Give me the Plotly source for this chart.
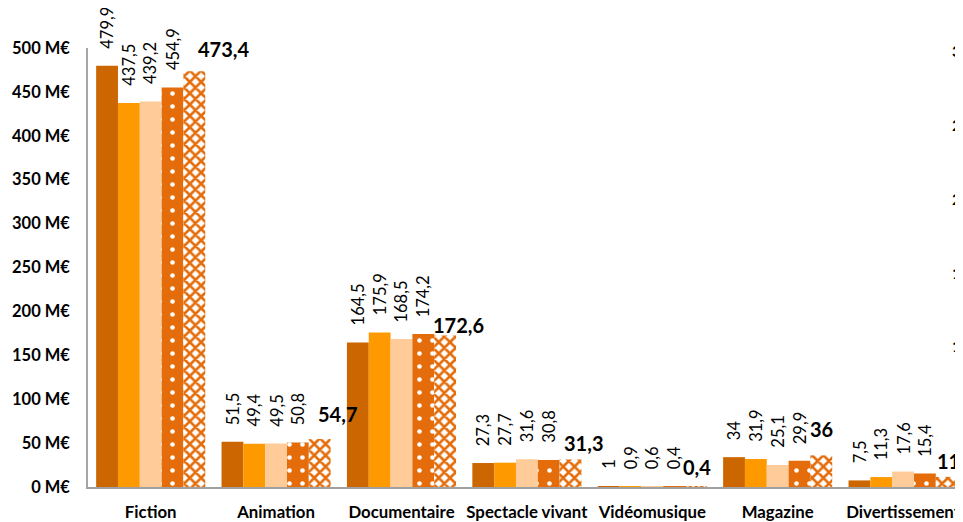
import plotly.graph_objects as go

categories = ["Fiction", "Animation", "Documentaire", "Spectacle vivant",
              "Vidéomusique", "Magazine", "Divertissement"]
series_names = ["Série 1", "Série 2", "Série 3", "Série 4", "Série 5"]
s1 = [479.9, 51.5, 164.5, 27.3, 1.0, 34.0, 7.5]
s2 = [437.5, 49.4, 175.9, 27.7, 0.9, 31.9, 11.3]
s3 = [439.2, 49.5, 168.5, 31.6, 0.6, 25.1, 17.6]
s4 = [454.9, 50.8, 174.2, 30.8, 0.4, 29.9, 15.4]
s5 = [473.4, 54.7, 172.6, 31.3, 0.4, 36.0, 11.5]
series = [s1, s2, s3, s4, s5]

y_tickvals = [0, 50, 100, 150, 200, 250, 300, 350, 400, 450, 500]
y_ticktext = [f"{v} M€" for v in y_tickvals]
y2_tickvals = [10, 15, 20, 25, 30]
y2_range = [0.44, 30.2]

# style (not data)
colors = ["#CC6600", "#FF9900", "#FFCC99", "#E46C0A", "#E46C0A"]
last_dx = [29, 18, 13, 13, 1, 0, 10]
last_dy = [8, 11, -4, 3, 6, 12, 2]

# the page body has an 8px margin: size the figure so it ends at the window edge
W, H = 955, 514
ML, MR, MT, MB = 80, 0, 40, 35
XR = [-0.5, 6.478]
BARGAP = 0.13
px_per_cat = (W - ML - MR) / (XR[1] - XR[0])
bar_px = px_per_cat * (1 - BARGAP) / len(series)


def fmt(v):
    if float(v).is_integer():
        return str(int(v))
    return f"{v:.1f}".replace(".", ",")


FONT = "Lato, 'Open Sans', sans-serif"

fig = go.Figure()
for k, vals in enumerate(series):
    marker = dict(color=colors[k], line=dict(width=0))
    if k == 3:
        marker["pattern"] = dict(shape=".", fgcolor="white", bgcolor=colors[k],
                                 size=13, solidity=0.1, fillmode="replace")
    elif k == 4:
        marker["pattern"] = dict(shape="x", fgcolor=colors[k], bgcolor="white",
                                 size=8, solidity=0.55, fillmode="replace")
    fig.add_trace(go.Bar(x=categories, y=vals, name=series_names[k],
                         marker=marker, hoverinfo="x+y"))

annotations = []
for k, vals in enumerate(series):
    for i, v in enumerate(vals):
        if k < 4:
            annotations.append(dict(
                x=categories[i], y=v, xref="x", yref="y", text=fmt(v),
                showarrow=False, textangle=-90, xanchor="center", yanchor="bottom",
                xshift=(k - 2) * bar_px, yshift=15,
                font=dict(family=FONT, size=16.5, color="black")))
        else:
            annotations.append(dict(
                x=categories[i], y=v, xref="x", yref="y", text=fmt(v),
                showarrow=False, xanchor="center", yanchor="bottom",
                xshift=(k - 2) * bar_px + last_dx[i], yshift=last_dy[i],
                font=dict(family=FONT, size=20, color="black", weight="bold")))

# secondary-axis tick labels (cut by the right edge, as in the reference)
for v in y2_tickvals:
    annotations.append(dict(
        x=(942 - ML) / (W - ML - MR), xref="paper",
        y=(v - y2_range[0]) / (y2_range[1] - y2_range[0]), yref="paper",
        text=str(v), showarrow=False, xanchor="left", yanchor="middle",
        font=dict(family=FONT, size=16, color="black", weight="bold")))

fig.update_layout(
    width=W, height=H,
    margin=dict(l=ML, r=MR, t=MT, b=MB, pad=0),
    paper_bgcolor="white", plot_bgcolor="white",
    barmode="group", bargap=BARGAP, bargroupgap=0,
    showlegend=False,
    font=dict(family=FONT, color="black"),
    annotations=annotations,
    xaxis=dict(type="category", range=XR, showline=True, linecolor="#A0A0A0",
               linewidth=2, ticks="", showgrid=False, zeroline=False,
               ticklabelstandoff=9,
               tickfont=dict(family=FONT, size=16.8, color="black", weight="bold")),
    yaxis=dict(range=[0, 500], tickvals=y_tickvals, ticktext=y_ticktext,
               showline=True, linecolor="#A6A6A6", linewidth=1.5, ticks="",
               showgrid=False, zeroline=False, ticklabelstandoff=13,
               tickfont=dict(family=FONT, size=16.5, color="black", weight="bold")),
)

fig.write_html("out.html")
